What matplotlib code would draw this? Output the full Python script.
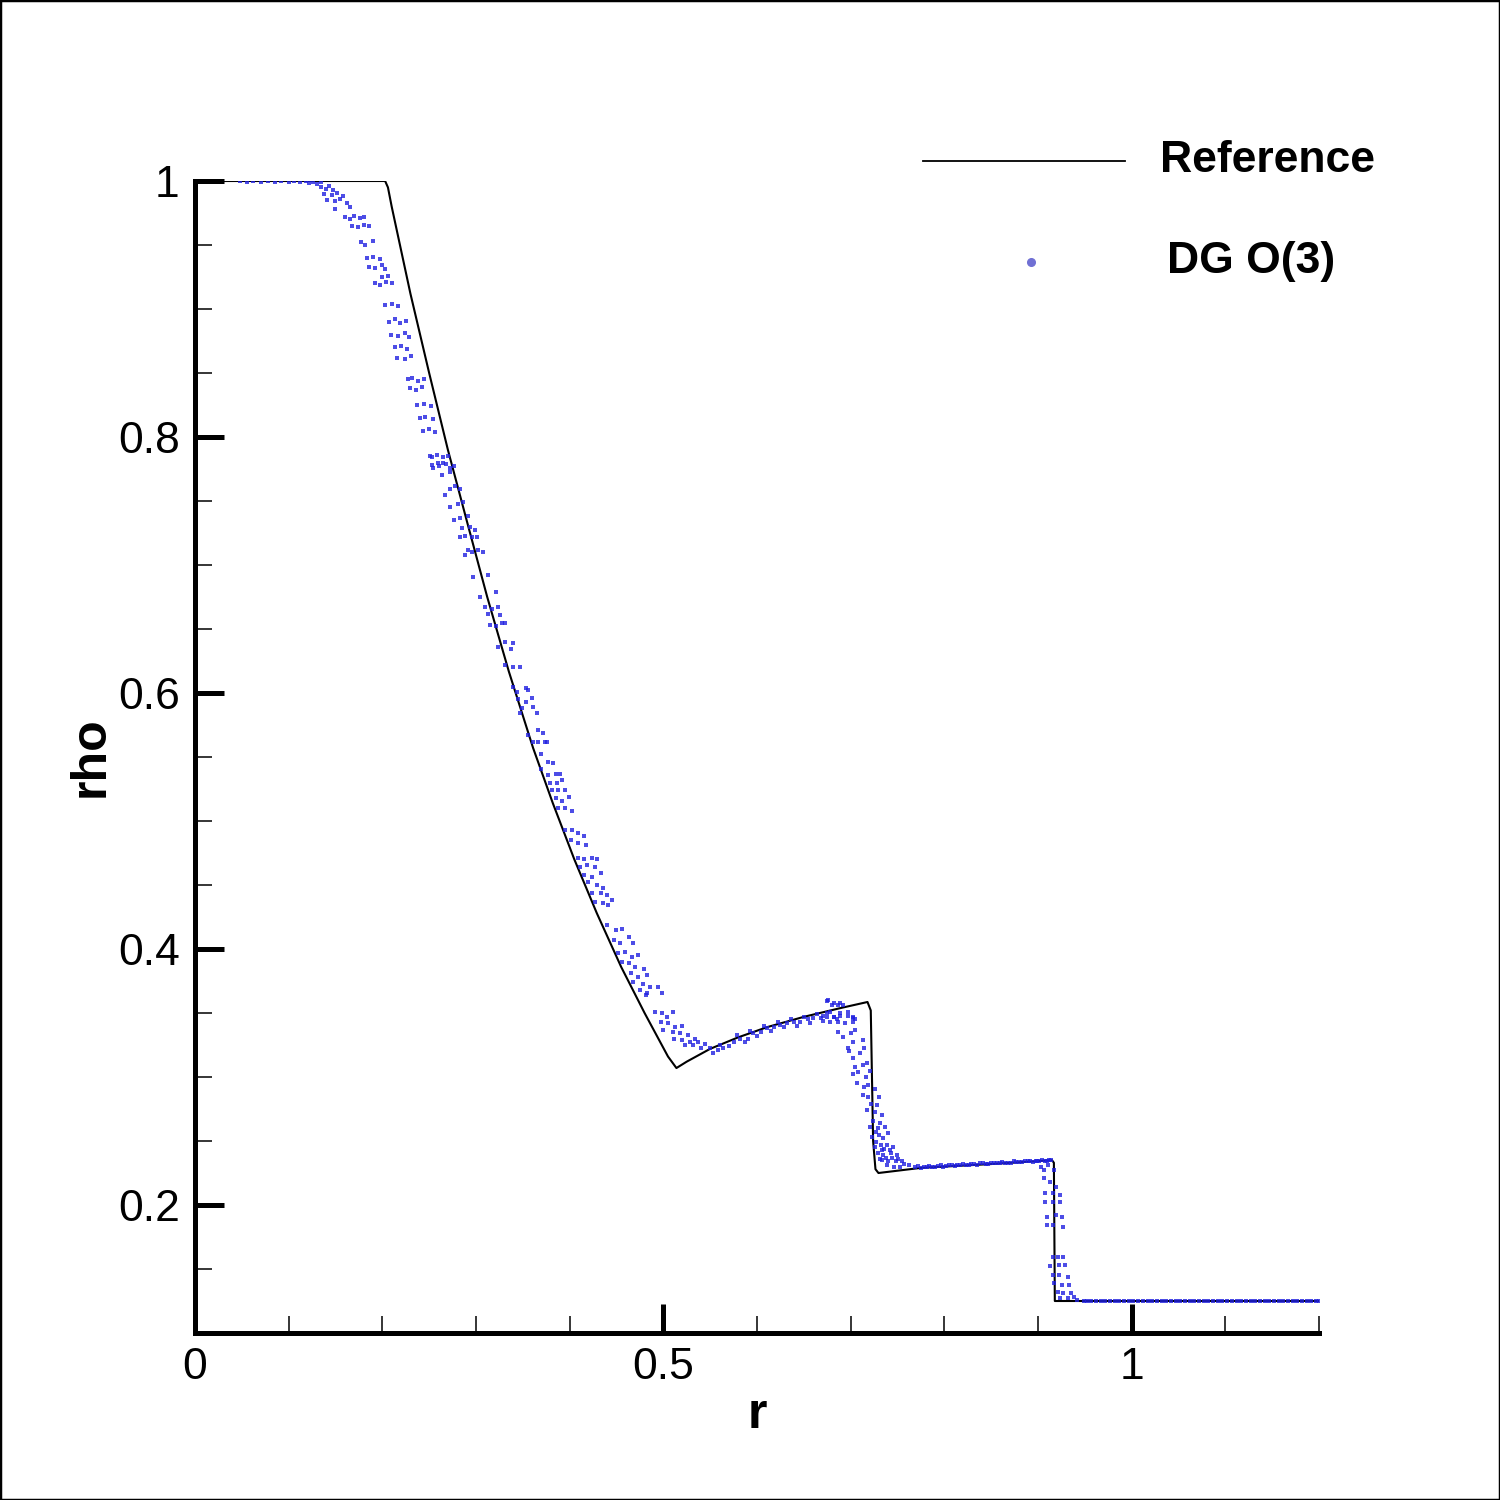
import matplotlib
matplotlib.use('Agg')
import matplotlib.pyplot as plt
from matplotlib.lines import Line2D
from matplotlib.patches import Rectangle
from matplotlib.ticker import MultipleLocator, FuncFormatter

plt.rcParams['font.family'] = ['Liberation Sans', 'DejaVu Sans']

# ---------------- data ----------------
ref_r = [0.0, 0.203, 0.206, 0.21, 0.23, 0.25, 0.27, 0.29, 0.312, 0.335, 0.361, 0.382,
         0.405, 0.429, 0.455, 0.48, 0.505, 0.514, 0.525, 0.55, 0.58, 0.611, 0.65, 0.69,
         0.718, 0.7215, 0.724, 0.7265, 0.7297, 0.775, 0.85, 0.915, 0.917, 0.918, 1.2]
ref_rho = [1.0, 1.0, 0.995, 0.98, 0.912, 0.85, 0.79, 0.735, 0.675, 0.617, 0.557, 0.514,
           0.47, 0.428, 0.386, 0.35, 0.316, 0.307, 0.312, 0.322, 0.331, 0.339, 0.347, 0.354,
           0.3586, 0.352, 0.25, 0.228, 0.225, 0.229, 0.232, 0.235, 0.233, 0.125, 0.125]

dg_top = [(0.048, 1.0), (0.055, 0.9995), (0.062, 1.0), (0.07, 0.9995), (0.078, 1.0),
          (0.085, 0.9995), (0.092, 1.0), (0.1, 0.999), (0.106, 1.0), (0.112, 0.999),
          (0.118, 1.0), (0.122, 0.9985), (0.126, 0.999), (0.13, 0.998), (0.134, 0.999)]

dg_fan = [(0.135, 0.995), (0.140, 0.994), (0.143, 0.996), (0.147, 0.993),
          (0.138, 0.990), (0.146, 0.989), (0.152, 0.991), (0.158, 0.988),
          (0.141, 0.985), (0.149, 0.984), (0.155, 0.986), (0.162, 0.983),
          (0.150, 0.978), (0.166, 0.980),
          (0.160, 0.972), (0.165, 0.970), (0.170, 0.973), (0.176, 0.971), (0.180, 0.972),
          (0.168, 0.965), (0.174, 0.964), (0.180, 0.966), (0.186, 0.965),
          (0.177, 0.952), (0.182, 0.950), (0.190, 0.953),
          (0.184, 0.940), (0.190, 0.941), (0.197, 0.939),
          (0.186, 0.933), (0.192, 0.932), (0.200, 0.934), (0.203, 0.931),
          (0.200, 0.925), (0.206, 0.926),
          (0.192, 0.920), (0.198, 0.919), (0.204, 0.921), (0.210, 0.920),
          (0.203, 0.903), (0.210, 0.904), (0.217, 0.902),
          (0.207, 0.890), (0.213, 0.892), (0.219, 0.889), (0.225, 0.891),
          (0.209, 0.880), (0.217, 0.879), (0.224, 0.881), (0.228, 0.878),
          (0.213, 0.870), (0.220, 0.871), (0.226, 0.869),
          (0.216, 0.862), (0.224, 0.861), (0.231, 0.863),
          (0.227, 0.845), (0.232, 0.846), (0.238, 0.844), (0.244, 0.845),
          (0.230, 0.838), (0.236, 0.837), (0.242, 0.839),
          (0.237, 0.825), (0.245, 0.826), (0.252, 0.824),
          (0.240, 0.815), (0.246, 0.816), (0.254, 0.814),
          (0.243, 0.805), (0.250, 0.806), (0.256, 0.804),
          (0.251, 0.785), (0.258, 0.786), (0.265, 0.784), (0.270, 0.785),
          (0.253, 0.778), (0.261, 0.777), (0.268, 0.779), (0.272, 0.776)]

dg_mid = [(0.253, 0.784), (0.259, 0.780), (0.265, 0.780), (0.254, 0.776), (0.264, 0.770),
          (0.272, 0.773), (0.276, 0.777), (0.267, 0.755), (0.272, 0.759), (0.278, 0.762),
          (0.283, 0.759), (0.272, 0.745), (0.281, 0.748), (0.286, 0.749), (0.276, 0.735),
          (0.283, 0.737), (0.292, 0.738), (0.285, 0.729), (0.294, 0.730), (0.299, 0.727),
          (0.283, 0.722), (0.288, 0.723), (0.296, 0.722), (0.301, 0.722), (0.291, 0.712),
          (0.296, 0.710), (0.302, 0.712), (0.307, 0.710), (0.288, 0.708), (0.297, 0.691),
          (0.313, 0.692), (0.304, 0.675), (0.321, 0.679), (0.310, 0.667), (0.313, 0.662),
          (0.317, 0.666), (0.324, 0.667), (0.326, 0.661), (0.315, 0.653), (0.321, 0.652),
          (0.328, 0.655), (0.331, 0.655), (0.323, 0.636), (0.331, 0.640), (0.339, 0.639),
          (0.337, 0.634), (0.331, 0.622), (0.340, 0.620), (0.347, 0.620), (0.339, 0.605),
          (0.344, 0.601), (0.353, 0.604), (0.356, 0.602), (0.345, 0.595), (0.353, 0.593),
          (0.360, 0.596), (0.349, 0.588), (0.361, 0.589), (0.347, 0.584), (0.365, 0.584),
          (0.356, 0.567), (0.366, 0.571), (0.372, 0.569), (0.366, 0.562), (0.376, 0.562)]

dg_low = [(0.361, 0.562), (0.374, 0.562), (0.369, 0.552), (0.377, 0.546),
          (0.382, 0.545), (0.369, 0.541), (0.377, 0.536), (0.385, 0.537), (0.390, 0.537),
          (0.379, 0.530), (0.387, 0.530), (0.392, 0.532), (0.381, 0.524), (0.388, 0.524),
          (0.395, 0.524), (0.385, 0.518), (0.392, 0.516), (0.399, 0.519), (0.388, 0.510),
          (0.395, 0.510), (0.403, 0.508), (0.395, 0.493), (0.403, 0.493), (0.409, 0.491),
          (0.415, 0.488), (0.401, 0.485), (0.409, 0.483), (0.417, 0.481), (0.409, 0.471),
          (0.415, 0.470), (0.424, 0.471), (0.429, 0.470), (0.411, 0.464), (0.419, 0.466),
          (0.427, 0.464), (0.415, 0.458), (0.424, 0.456), (0.433, 0.459), (0.420, 0.452),
          (0.429, 0.450), (0.436, 0.448), (0.424, 0.444), (0.433, 0.444), (0.440, 0.442),
          (0.427, 0.437), (0.436, 0.436), (0.445, 0.438), (0.441, 0.434), (0.440, 0.419),
          (0.449, 0.415), (0.456, 0.416), (0.447, 0.407), (0.454, 0.405), (0.463, 0.409),
          (0.468, 0.405), (0.452, 0.397), (0.459, 0.398), (0.467, 0.394), (0.473, 0.395),
          (0.456, 0.390), (0.463, 0.389), (0.470, 0.386), (0.479, 0.384), (0.465, 0.381),
          (0.473, 0.378), (0.483, 0.380), (0.468, 0.374), (0.478, 0.373), (0.486, 0.370),
          (0.494, 0.370), (0.475, 0.368), (0.483, 0.366), (0.499, 0.366), (0.481, 0.364),
          (0.491, 0.351), (0.499, 0.350), (0.504, 0.347), (0.510, 0.351), (0.497, 0.343),
          (0.505, 0.342), (0.513, 0.339), (0.520, 0.340), (0.500, 0.337), (0.510, 0.335),
          (0.518, 0.334), (0.526, 0.333), (0.511, 0.330), (0.520, 0.329), (0.529, 0.327),
          (0.534, 0.330), (0.523, 0.325), (0.532, 0.325), (0.537, 0.327)]

dg_contact = [(0.540, 0.323), (0.550, 0.323), (0.558, 0.321), (0.564, 0.323), (0.575, 0.327),
              (0.582, 0.330), (0.590, 0.330), (0.596, 0.334), (0.604, 0.335), (0.611, 0.338),
              (0.618, 0.339), (0.625, 0.341), (0.632, 0.342), (0.639, 0.343), (0.646, 0.343),
              (0.654, 0.345), (0.660, 0.346), (0.668, 0.346), (0.675, 0.347), (0.682, 0.347),
              (0.689, 0.348), (0.697, 0.348), (0.702, 0.346), (0.705, 0.345),
              (0.545, 0.326), (0.553, 0.319), (0.561, 0.325), (0.570, 0.324), (0.579, 0.333),
              (0.587, 0.327), (0.593, 0.336), (0.600, 0.332), (0.608, 0.340), (0.615, 0.336),
              (0.622, 0.343), (0.629, 0.339), (0.636, 0.345), (0.643, 0.340), (0.650, 0.347),
              (0.657, 0.342), (0.664, 0.349), (0.671, 0.344), (0.678, 0.351), (0.685, 0.345),
              (0.676, 0.360), (0.682, 0.358), (0.689, 0.358)]

dg_shock1 = [(0.675, 0.359), (0.680, 0.356), (0.687, 0.356), (0.692, 0.356), (0.670, 0.348),
             (0.675, 0.350), (0.682, 0.347), (0.689, 0.350), (0.697, 0.351), (0.702, 0.347),
             (0.678, 0.343), (0.687, 0.343), (0.694, 0.342), (0.703, 0.343), (0.686, 0.335),
             (0.692, 0.331), (0.700, 0.334), (0.705, 0.337), (0.697, 0.323), (0.702, 0.327),
             (0.713, 0.329), (0.698, 0.320), (0.703, 0.315), (0.710, 0.319), (0.714, 0.323),
             (0.705, 0.308), (0.713, 0.309), (0.718, 0.311), (0.703, 0.302), (0.708, 0.304),
             (0.716, 0.300), (0.721, 0.305), (0.707, 0.295), (0.714, 0.292), (0.719, 0.294),
             (0.726, 0.291), (0.713, 0.286), (0.719, 0.284), (0.730, 0.284), (0.718, 0.274),
             (0.726, 0.273), (0.734, 0.270), (0.721, 0.261), (0.729, 0.260), (0.737, 0.261),
             (0.740, 0.256), (0.723, 0.253), (0.730, 0.255), (0.735, 0.252), (0.726, 0.245),
             (0.732, 0.247), (0.739, 0.247), (0.745, 0.245), (0.729, 0.241), (0.735, 0.239),
             (0.743, 0.241), (0.750, 0.239), (0.734, 0.235), (0.740, 0.234), (0.748, 0.234),
             (0.755, 0.234), (0.762, 0.231), (0.739, 0.231), (0.746, 0.230), (0.753, 0.230),
             (0.769, 0.230), (0.727, 0.249), (0.733, 0.243), (0.738, 0.237), (0.744, 0.237),
             (0.751, 0.236), (0.757, 0.232), (0.736, 0.244), (0.742, 0.243), (0.731, 0.236),
             (0.724, 0.266), (0.731, 0.264), (0.727, 0.257), (0.722, 0.279), (0.728, 0.278)]

dg_plateau = [(0.772, 0.2305), (0.778, 0.2295), (0.784, 0.2305), (0.790, 0.2300), (0.796, 0.2310),
              (0.802, 0.2305), (0.808, 0.2315), (0.814, 0.2310), (0.820, 0.2320), (0.826, 0.2315),
              (0.832, 0.2320), (0.838, 0.2325), (0.844, 0.2320), (0.850, 0.2330), (0.856, 0.2325),
              (0.862, 0.2335), (0.868, 0.2330), (0.874, 0.2340), (0.880, 0.2335), (0.886, 0.2340),
              (0.892, 0.2345), (0.898, 0.2340), (0.904, 0.2350), (0.910, 0.2345), (0.914, 0.2350),
              (0.775, 0.2290), (0.787, 0.2295), (0.799, 0.2300), (0.811, 0.2305), (0.823, 0.2310),
              (0.835, 0.2315), (0.847, 0.2320), (0.859, 0.2325), (0.871, 0.2330), (0.883, 0.2335),
              (0.895, 0.2335), (0.907, 0.2340), (0.781, 0.2300), (0.793, 0.2305), (0.805, 0.2310),
              (0.817, 0.2315), (0.829, 0.2320), (0.841, 0.2325), (0.853, 0.2325), (0.865, 0.2330),
              (0.877, 0.2335), (0.889, 0.2345), (0.901, 0.2345), (0.912, 0.2350)]

dg_shock2 = [(0.899, 0.234), (0.903, 0.230), (0.906, 0.227), (0.911, 0.231), (0.917, 0.227),
             (0.906, 0.221), (0.913, 0.218), (0.919, 0.214), (0.908, 0.209), (0.916, 0.209),
             (0.924, 0.208), (0.908, 0.202), (0.916, 0.202), (0.924, 0.202), (0.910, 0.191),
             (0.919, 0.192), (0.926, 0.191), (0.910, 0.184), (0.916, 0.184), (0.927, 0.183),
             (0.916, 0.159), (0.921, 0.159), (0.927, 0.159), (0.913, 0.152), (0.922, 0.153),
             (0.929, 0.153), (0.916, 0.145), (0.922, 0.145), (0.932, 0.144), (0.917, 0.139),
             (0.926, 0.1375), (0.933, 0.1375), (0.921, 0.132), (0.927, 0.131), (0.935, 0.131),
             (0.938, 0.128), (0.924, 0.127), (0.932, 0.127), (0.942, 0.126), (0.949, 0.125)]

dg_ambient = [(0.952, 0.125), (0.957, 0.125), (0.962, 0.125), (0.967, 0.125), (0.972, 0.125),
              (0.977, 0.125), (0.982, 0.125), (0.987, 0.125), (0.992, 0.125), (0.997, 0.125),
              (1.002, 0.125), (1.007, 0.125), (1.012, 0.125), (1.017, 0.125), (1.022, 0.125),
              (1.027, 0.125), (1.032, 0.125), (1.037, 0.125), (1.042, 0.125), (1.047, 0.125),
              (1.052, 0.125), (1.057, 0.125), (1.062, 0.125), (1.067, 0.125), (1.072, 0.125),
              (1.077, 0.125), (1.082, 0.125), (1.087, 0.125), (1.092, 0.125), (1.097, 0.125),
              (1.102, 0.125), (1.107, 0.125), (1.112, 0.125), (1.117, 0.125), (1.122, 0.125),
              (1.127, 0.125), (1.132, 0.125), (1.137, 0.125), (1.142, 0.125), (1.147, 0.125),
              (1.152, 0.125), (1.157, 0.125), (1.162, 0.125), (1.167, 0.125), (1.172, 0.125),
              (1.177, 0.125), (1.182, 0.125), (1.187, 0.125), (1.192, 0.125), (1.197, 0.125),
              (1.200, 0.125)]

x_ticks = [0, 0.5, 1]
y_ticks = [0.2, 0.4, 0.6, 0.8, 1.0]
legend_labels = ['Reference', 'DG O(3)']

# ---------------- plot ----------------
fig = plt.figure(figsize=(15, 15), dpi=100)
ax = fig.add_axes([0.13, 0.11133, 0.7493, 0.768])

ax.plot(ref_r, ref_rho, color='black', lw=1.5, zorder=2)

dg_all = dg_top + dg_fan + dg_mid + dg_low + dg_contact + dg_shock1 + dg_plateau + dg_shock2 + dg_ambient
dg_r = [p[0] for p in dg_all]
dg_rho = [p[1] for p in dg_all]
ax.scatter(dg_r, dg_rho, s=5.2, marker='s', color='#2020e0', alpha=0.8, linewidths=0, zorder=3)

ax.set_xlim(0, 1.2)
ax.set_ylim(0.1, 1.0)
ax.set_xticks(x_ticks)
ax.set_yticks(y_ticks)
ax.xaxis.set_minor_locator(MultipleLocator(0.1))
ax.yaxis.set_minor_locator(MultipleLocator(0.05))
fmt = FuncFormatter(lambda v, _: f'{v:g}')
ax.xaxis.set_major_formatter(fmt)
ax.yaxis.set_major_formatter(fmt)

for s in ['top', 'right']:
    ax.spines[s].set_visible(False)
for s in ['left', 'bottom']:
    ax.spines[s].set_linewidth(3.6)

ax.tick_params(which='major', direction='in', length=21, width=3.6, labelsize=32, colors='black')
ax.tick_params(axis='y', which='major', pad=11)
ax.tick_params(axis='x', which='major', pad=10)
ax.tick_params(which='minor', direction='in', length=12, width=1.1)

ax.set_xlabel('r', fontsize=36, fontweight='bold', labelpad=3)
ax.set_ylabel('rho', fontsize=36, fontweight='bold', labelpad=3)

# legend
fig.add_artist(Line2D([923 / 1500, 1125 / 1500], [1 - 161 / 1500, 1 - 161 / 1500],
                      color='black', lw=1.3, transform=fig.transFigure))
fig.text(1160 / 1500, 1 - 160 / 1500, legend_labels[0], fontsize=32, fontweight='bold',
         ha='left', va='center')
fig.add_artist(Line2D([1031 / 1500], [1 - 262 / 1500], marker='o', markersize=5.5,
                      color='#7070d4', linestyle='none', transform=fig.transFigure))
fig.text(1167 / 1500, 1 - 262 / 1500, legend_labels[1], fontsize=32, fontweight='bold',
         ha='left', va='center')

fig.add_artist(Rectangle((0, 0), 1, 1, transform=fig.transFigure, fill=False,
                         edgecolor='black', lw=2.5))

fig.savefig('out.png', dpi=100)
